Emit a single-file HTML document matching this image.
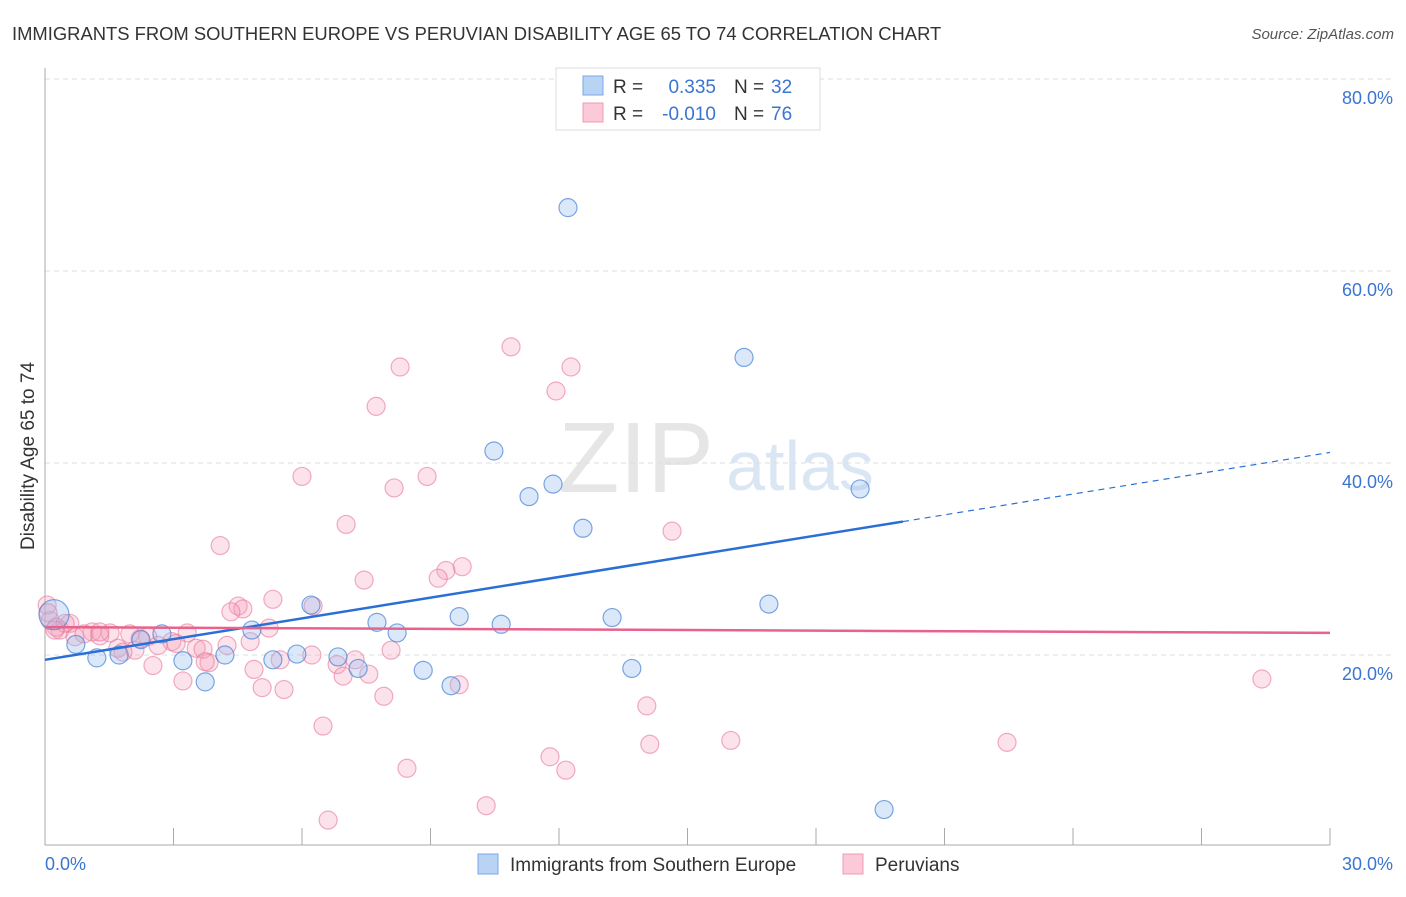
<!DOCTYPE html>
<html><head><meta charset="utf-8"><style>
body{margin:0;background:#fff;font-family:"Liberation Sans",sans-serif;}
svg text{font-family:"Liberation Sans",sans-serif;}
</style></head><body>
<svg id="chart" width="1406" height="892" xmlns="http://www.w3.org/2000/svg">
<text x="12" y="40" font-size="18.4" fill="#333">IMMIGRANTS FROM SOUTHERN EUROPE VS PERUVIAN DISABILITY AGE 65 TO 74 CORRELATION CHART</text>
<text x="1394" y="39" font-size="15" fill="#555" text-anchor="end" font-style="italic">Source: ZipAtlas.com</text>
<text x="636" y="492" font-size="100" fill="#e6e6e6" text-anchor="middle" font-family="Liberation Serif">ZIP</text>
<text x="800" y="490" font-size="70" fill="#dbe6f5" text-anchor="middle">atlas</text>
<text transform="translate(34,456) rotate(-90)" font-size="19" fill="#333" text-anchor="middle">Disability Age 65 to 74</text>
<g id="grid"></g><g id="axes"></g><g id="pts"></g><g id="trend"></g>
<g>
<rect x="556" y="68" width="264" height="62" fill="#fff" stroke="#ddd"/>
<rect x="583" y="76" width="20" height="19" fill="#b9d3f5" stroke="#7aa7e6"/>
<rect x="583" y="103" width="20" height="19" fill="#fbc9d7" stroke="#ef9cb4"/>
<text x="613" y="93" font-size="19" fill="#333">R =</text>
<text x="716" y="93" font-size="19" fill="#3a75d0" text-anchor="end">0.335</text>
<text x="734" y="93" font-size="19" fill="#333">N =</text>
<text x="771" y="93" font-size="19" fill="#3a75d0">32</text>
<text x="613" y="120" font-size="19" fill="#333">R =</text>
<text x="716" y="120" font-size="19" fill="#3a75d0" text-anchor="end">-0.010</text>
<text x="734" y="120" font-size="19" fill="#333">N =</text>
<text x="771" y="120" font-size="19" fill="#3a75d0">76</text>
</g>
<g>
<rect x="478" y="854" width="20" height="20" fill="#b9d3f5" stroke="#7aa7e6"/>
<text x="510" y="871" font-size="19" fill="#333">Immigrants from Southern Europe</text>
<rect x="843" y="854" width="20" height="20" fill="#fbc9d7" stroke="#ef9cb4"/>
<text x="875" y="871" font-size="19" fill="#333">Peruvians</text>
</g>
</svg>
<script>
const blueX=[12.21,16.32,10.48,11.86,11.30,19.03,12.56,6.21,16.90,9.67,7.75,13.24,10.65,8.22,4.83,2.73,2.24,0.72,0.21,1.21,1.73,3.22,4.20,5.32,5.88,6.84,7.31,8.83,9.48,3.74,13.70,19.59];
const blueY=[66.6,51.0,41.25,37.8,36.5,37.3,33.2,25.2,25.3,24.0,23.4,23.9,23.2,22.3,22.6,22.2,21.6,21.1,24.2,19.7,20.0,19.4,20.0,19.5,20.1,19.8,18.6,18.4,16.8,17.2,18.6,3.9];
const pinkX=[10.88,8.29,12.28,11.93,7.73,6.00,8.92,8.15,7.03,14.64,4.09,9.74,9.36,9.18,7.45,5.32,4.51,4.62,4.34,6.26,3.32,5.23,4.79,2.96,2.40,1.52,1.98,1.10,0.58,0.35,0.12,0.05,0.26,0.70,0.91,1.28,1.70,2.10,2.64,3.06,3.53,3.69,4.25,3.83,2.52,3.22,4.88,5.49,6.23,6.82,7.24,6.96,7.56,8.08,5.07,5.58,7.91,9.67,14.05,28.41,6.49,16.01,14.12,22.46,11.79,8.45,12.16,10.30,6.61,0.07,0.47,1.28,1.82,3.74,2.22,0.23];
const pinkY=[52.1,50.0,50.0,47.5,45.9,38.6,38.6,37.4,33.6,32.9,31.4,29.2,28.8,28.0,27.8,25.8,25.1,24.8,24.5,25.1,22.3,22.8,21.4,21.4,21.9,22.3,22.2,22.4,23.3,22.6,23.6,25.2,22.9,21.9,22.2,22.0,20.7,20.5,21.0,21.2,20.7,20.6,21.0,19.2,18.9,17.3,18.5,19.5,20.0,19.0,19.5,17.8,18.0,20.5,16.6,16.4,15.7,16.9,14.7,17.5,12.6,11.1,10.7,10.9,9.4,8.2,8.0,4.3,2.8,24.4,23.3,22.4,20.3,19.3,21.7,22.6];
const yTicks=[20,40,60,80];
const yTickLabels=["20.0%","40.0%","60.0%","80.0%"];
const xTickLabels=["0.0%","30.0%"];
const blueTrend=[19.5,33.9,41.1];
const blueSolidEnd=20.03;
const pinkTrend=[22.9,22.3];
const NS="http://www.w3.org/2000/svg";
const X=v=>45+v/30*1285, Y=v=>847-v*9.6;
function mk(t,a,p){const e=document.createElementNS(NS,t);for(const k in a)e.setAttribute(k,a[k]);p.appendChild(e);return e;}
const grid=document.getElementById('grid'),axes=document.getElementById('axes'),pts=document.getElementById('pts'),tr=document.getElementById('trend');
yTicks.forEach((v,i)=>{
 const l=mk('line',{x1:45,x2:1395,y1:Y(v),y2:Y(v),stroke:'#ddd','stroke-dasharray':'5,4'},grid);
 
 
 const t=mk('text',{x:1393,y:Y(v)+25,'font-size':18,fill:'#3a75d0','text-anchor':'end'},axes);t.textContent=yTickLabels[i];
 
 
});
const ya=mk('line',{x1:45,x2:45,y1:68,y2:845,stroke:'#aaa'},axes);


const xa=mk('line',{x1:45,x2:1330,y1:845,y2:845,stroke:'#aaa'},axes);


for(let i=0;i<=10;i++){const tk=mk('line',{x1:X(i*3),x2:X(i*3),y1:828,y2:845,stroke:'#aaa'},axes);
 
 }
const t0=mk('text',{x:45,y:870,'font-size':18,fill:'#3a75d0'},axes);t0.textContent=xTickLabels[0];


const t1=mk('text',{x:1393,y:870,'font-size':18,fill:'#3a75d0','text-anchor':'end'},axes);t1.textContent=xTickLabels[1];


pinkX.forEach((v,i)=>{const c=mk('circle',{cx:X(v),cy:Y(pinkY[i]),r:9,fill:'rgba(245,160,185,0.3)',stroke:'rgba(232,120,155,0.6)','stroke-width':1.2},pts);
 
 });
blueX.forEach((v,i)=>{const c=mk('circle',{cx:X(v),cy:Y(blueY[i]),r:i==18?15:9,fill:'rgba(150,190,240,0.35)',stroke:'rgba(70,130,215,0.7)','stroke-width':1.2},pts);
 
 });
const b1=mk('line',{x1:X(0),y1:Y(blueTrend[0]),x2:X(blueSolidEnd),y2:Y(blueTrend[1]),stroke:'#2a6fd6','stroke-width':2.5},tr);


const b2=mk('line',{x1:X(blueSolidEnd),y1:Y(blueTrend[1]),x2:X(30),y2:Y(blueTrend[2]),stroke:'#2a6fd6','stroke-width':1.2,'stroke-dasharray':'6,5'},tr);


const p1=mk('line',{x1:X(0),y1:Y(pinkTrend[0]),x2:X(30),y2:Y(pinkTrend[1]),stroke:'#e8638c','stroke-width':2.5},tr);


</script>
</body></html>
